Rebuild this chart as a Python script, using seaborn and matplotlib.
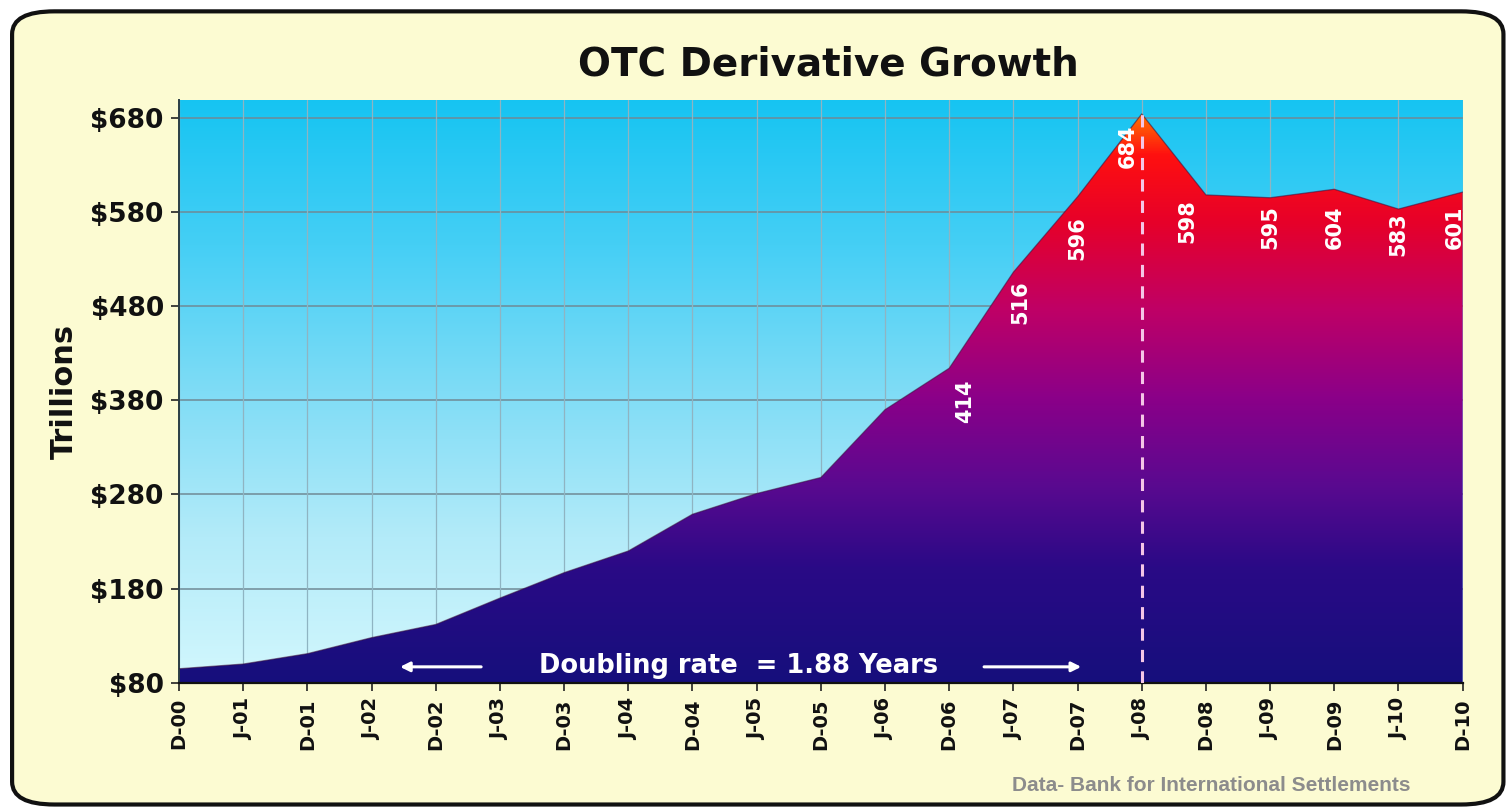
import numpy as np
import pandas as pd
import matplotlib
matplotlib.use("Agg")
import matplotlib.pyplot as plt
import seaborn as sns
from matplotlib.colors import LinearSegmentedColormap
from matplotlib.patches import FancyBboxPatch

# data (BIS, notional OTC derivatives, $ trillions)
periods = ["D-00", "J-01", "D-01", "J-02", "D-02", "J-03", "D-03", "J-04", "D-04",
           "J-05", "D-05", "J-06", "D-06", "J-07", "D-07", "J-08", "D-08", "J-09",
           "D-09", "J-10", "D-10"]
values = [95, 100, 111, 128, 142, 170, 197, 220, 259, 281, 298, 370, 414, 516,
          596, 684, 598, 595, 604, 583, 601]
labelled = ["D-06", "J-07", "D-07", "J-08", "D-08", "J-09", "D-09", "J-10", "D-10"]
y_ticks = [80, 180, 280, 380, 480, 580, 680]
peak_period = "J-08"

df = pd.DataFrame({"period": periods, "value": values})
df["pos"] = np.arange(len(df))

sns.set_theme(style="white")
plt.rcParams["font.family"] = ["DejaVu Sans"]
BOLD = dict(fontweight="bold", family="DejaVu Sans")

fig = plt.figure(figsize=(15.11, 8.11), dpi=100)
fig.patch.set_facecolor("white")

# cream rounded panel
panel = FancyBboxPatch((0.008, 0.008), 0.987, 0.978,
                       boxstyle="round,pad=0,rounding_size=0.028",
                       transform=fig.transFigure, facecolor="#fcfbd2",
                       edgecolor="#111111", linewidth=3.0, zorder=-5)
fig.patches.append(panel)

ax = fig.add_axes([0.1185, 0.158, 0.8495, 0.719])
ax.set_zorder(2)
ax.set_xlim(0, len(periods) - 1)
ymin, ymax = 80, 699
ax.set_ylim(ymin, ymax)

# sky background gradient
sky = LinearSegmentedColormap.from_list(
    "sky", ["#d2f7fd", "#b3ebf9", "#7fdcf6", "#45cff5", "#16c4f2"])
ax.imshow(np.linspace(0, 1, 256).reshape(-1, 1), extent=[0, 20, ymin, ymax],
          origin="lower", aspect="auto", cmap=sky, zorder=0)

# grid
for y in y_ticks:
    ax.axhline(y, color="#6f8a96", lw=1.1, zorder=1)
for i in range(len(periods)):
    ax.axvline(i, color="#8fb4c2", lw=0.9, zorder=1)

# area with value gradient
fill = ax.fill_between(df["pos"], df["value"], ymin, facecolor="none",
                       edgecolor="none", zorder=2)
heat = LinearSegmentedColormap.from_list(
    "heat", [(0.0, "#160f7c"), (0.2, "#2a0a86"), (0.35, "#5c0990"),
             (0.5, "#8c0088"), (0.65, "#bf0066"), (0.8, "#e6002a"),
             (0.92, "#ff1010"), (1.0, "#ff8000")])
img = ax.imshow(np.linspace(0, 1, 256).reshape(-1, 1), extent=[0, 20, ymin, 690],
                origin="lower", aspect="auto", cmap=heat, zorder=2)
img.set_clip_path(fill.get_paths()[0], transform=ax.transData)

sns.lineplot(data=df, x="pos", y="value", ax=ax, color="#3a0d3a", lw=0.9,
             alpha=0.55, zorder=3)

# dashed marker at the peak
peak_i = periods.index(peak_period)
ax.plot([peak_i, peak_i], [ymin, values[peak_i]], color="#f4c6e6", lw=2.2,
        ls=(0, (4, 3)), zorder=4)

# value labels
label_dx = [16, 7, 0, -14, -19, 0, 0, 0, -8]
label_dy = [-33, -30, -41, -32, -26, -29, -38, -25, -35]
for p, dx, dy in zip(labelled, label_dx, label_dy):
    i = periods.index(p)
    ax.annotate(str(values[i]), (i, values[i]), xytext=(dx, dy),
                textcoords="offset pixels", rotation=90, ha="center",
                va="center", color="white", fontsize=15, zorder=5, **BOLD)

# doubling annotation
ax.text(8.72, 98, "Doubling rate  = 1.88 Years", color="white", fontsize=18.5,
        ha="center", va="center", zorder=5, **BOLD)
ax.annotate("", xy=(3.4, 97), xytext=(4.75, 97),
            arrowprops=dict(arrowstyle="-|>", color="white", lw=2.2,
                            mutation_scale=14), zorder=5)
ax.annotate("", xy=(14.1, 97), xytext=(12.5, 97),
            arrowprops=dict(arrowstyle="-|>", color="white", lw=2.2,
                            mutation_scale=14), zorder=5)

# axes styling
ax.set_yticks(y_ticks)
ax.set_yticklabels([f"${v}" for v in y_ticks], fontsize=19, color="#111111",
                   **BOLD)
ax.set_xticks(df["pos"])
ax.set_xticklabels(periods, rotation=90, fontsize=14, color="#111111", **BOLD)
ax.tick_params(axis="both", length=6, width=1.2, color="#222222",
               bottom=True, left=True, pad=5)
ax.set_xlabel("")
ax.set_ylabel("Trillions", fontsize=22, color="#111111", labelpad=8, **BOLD)
for side in ["top", "right"]:
    ax.spines[side].set_visible(False)
ax.spines["left"].set_color("#2b3d45")
ax.spines["bottom"].set_color("#111111")
ax.spines["left"].set_linewidth(1.4)
ax.spines["bottom"].set_linewidth(1.6)

fig.text(0.548, 0.92, "OTC Derivative Growth", ha="center", va="center",
         fontsize=28, color="#111111", **BOLD)
fig.text(0.8015, 0.031, "Data- Bank for International Settlements", ha="center",
         va="center", fontsize=15, color="#8c8c8c", fontweight="bold",
         family="Liberation Sans")

fig.savefig("out.png", dpi=100)
